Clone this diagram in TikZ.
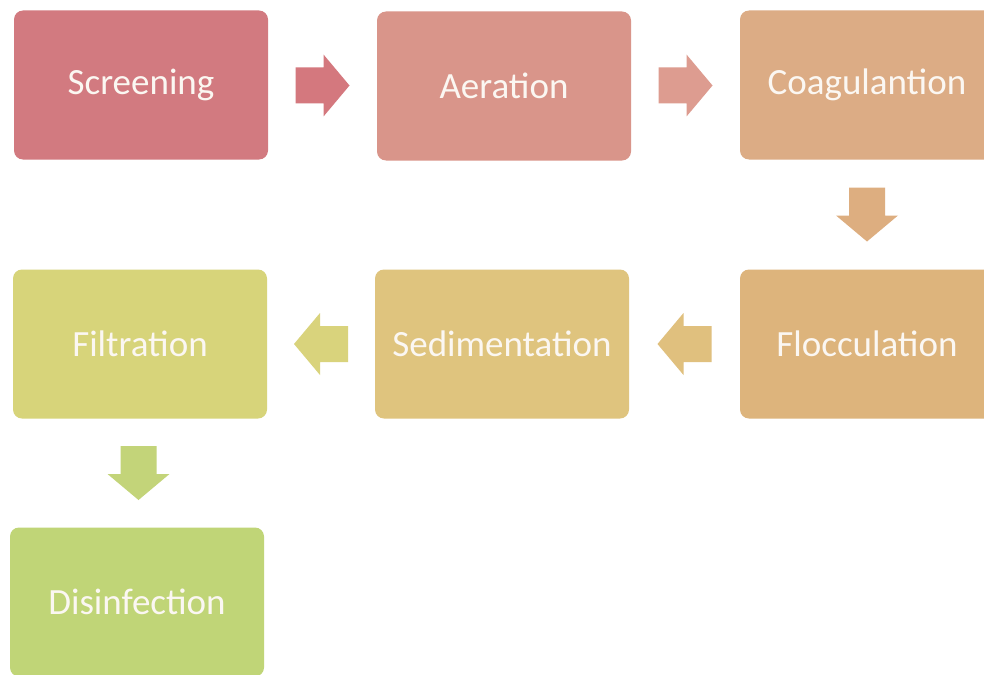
\documentclass[tikz,border=0pt]{standalone}
\usepackage{fontspec}
\setmainfont{Carlito}
\usetikzlibrary{calc}
\definecolor{cScr}{HTML}{D27A80}
\definecolor{cAer}{HTML}{D9958A}
\definecolor{cCoa}{HTML}{DCAC85}
\definecolor{cFlo}{HTML}{DDB47C}
\definecolor{cSed}{HTML}{DFC47E}
\definecolor{cFil}{HTML}{D7D47A}
\definecolor{cDis}{HTML}{C0D577}
\definecolor{aOne}{HTML}{D4787E}
\definecolor{aTwo}{HTML}{DD9C90}
\definecolor{aThr}{HTML}{DDAE80}
\definecolor{aFou}{HTML}{E0C07E}
\definecolor{aFiv}{HTML}{D9D37C}
\definecolor{aSix}{HTML}{C3D479}
\definecolor{txt}{HTML}{FBF7F2}
\tikzset{
  stagebox/.style={rectangle, rounded corners=9pt, draw=none, fill=#1,
    minimum width=254pt, minimum height=149pt, inner sep=0pt,
    text=txt, font=\fontsize{37}{44}\selectfont},
}
\newcommand{\blockarr}[3]{%
  \begin{scope}[shift={(#1)}, rotate=#2]
    \fill[#3] (-27,-18) -- (1,-18) -- (1,-31) -- (27,0) -- (1,31) -- (1,18) -- (-27,18) -- cycle;
  \end{scope}}
\begin{document}
\begin{tikzpicture}[x=1pt, y=-1pt]
\clip (0,0) rectangle (984,674);
\fill[white] (0,0) rectangle (984,674);
\node[stagebox=cScr] (scr) at (141,85) {Screening};
\node[stagebox=cAer] (aer) at (504,86) {Aeration};
\node[stagebox=cCoa] (coa) at (867,85) {Coagulantion};
\node[stagebox=cFlo] (flo) at (867,344) {Flocculation};
\node[stagebox=cSed] (sed) at (502,344) {Sedimentation};
\node[stagebox=cFil] (fil) at (140,344) {Filtration};
\node[stagebox=cDis] (dis) at (137,602) {Disinfection};
\coordinate (m1) at ($(scr.east)!0.5!(aer.west)$);
\coordinate (m2) at ($(aer.east)!0.5!(coa.west)$);
\coordinate (m3) at ($(coa.south)!0.5!(flo.north)$);
\coordinate (m4) at ($(flo.west)!0.5!(sed.east)$);
\coordinate (m5) at ($(sed.west)!0.5!(fil.east)$);
\coordinate (m6) at ($(fil.south)!0.5!(dis.north)$);
\blockarr{m1}{0}{aOne}
\blockarr{m2}{0}{aTwo}
\blockarr{m3}{-90}{aThr}
\blockarr{m4}{180}{aFou}
\blockarr{m5}{180}{aFiv}
\blockarr{m6}{-90}{aSix}
\end{tikzpicture}
\end{document}
